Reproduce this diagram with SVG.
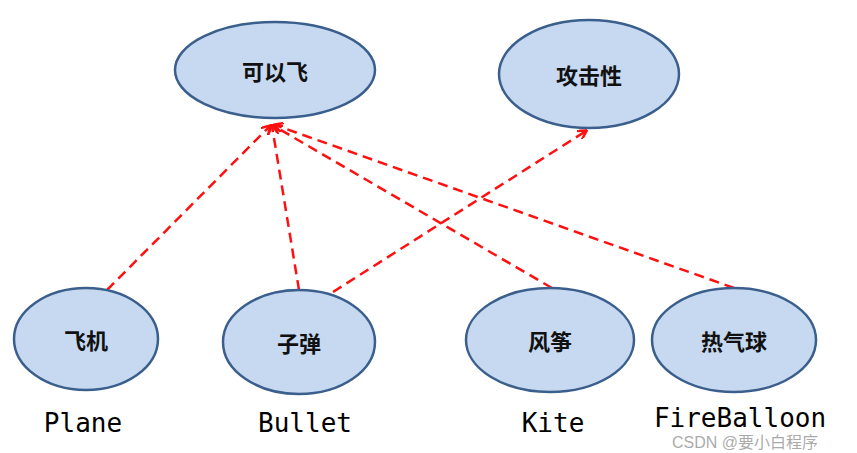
<svg xmlns="http://www.w3.org/2000/svg" width="857" height="453" viewBox="0 0 857 453">
<style>
.n ellipse{fill:#C6D9F1;stroke:#3B5F8C;stroke-width:2.5}
.n text{font-family:"Noto Sans CJK SC",sans-serif;font-size:22px;font-weight:bold;fill:#111;text-anchor:middle;dominant-baseline:central}
.lbl{font-family:"DejaVu Sans Mono","Liberation Mono",monospace;font-size:26px;fill:#000;text-anchor:middle}
.c line{stroke:#FF1010;stroke-width:2.5;stroke-dasharray:10 6;marker-end:url(#ah)}
</style>
<defs>
<marker id="ah" markerWidth="10" markerHeight="10" refX="8" refY="5" orient="auto" markerUnits="userSpaceOnUse">
<path d="M0,0 L9,5 L0,10" fill="none" stroke="#FF1010" stroke-width="2.5"/>
</marker>
</defs>
<rect width="857" height="453" fill="#fff"/>
<g class="c" id="connectors">
<line x1="107" y1="290" x2="270" y2="126"/>
<line x1="299" y1="290" x2="272" y2="126"/>
<line x1="552" y1="288" x2="274" y2="126"/>
<line x1="734" y1="288" x2="275" y2="125"/>
<line x1="333" y1="292" x2="586" y2="131"/>
</g>
<g class="n" id="fly"><ellipse cx="275" cy="70" rx="100" ry="48"/><text x="275" y="70">可以飞</text></g>
<g class="n" id="attack"><ellipse cx="589" cy="74" rx="90" ry="54"/><text x="589" y="74">攻击性</text></g>
<g class="n" id="plane"><ellipse cx="86" cy="339" rx="72" ry="51"/><text x="86" y="339">飞机</text></g>
<g class="n" id="bullet"><ellipse cx="299" cy="342" rx="76" ry="52"/><text x="299" y="342">子弹</text></g>
<g class="n" id="kite"><ellipse cx="550" cy="340" rx="84" ry="52"/><text x="550" y="340">风筝</text></g>
<g class="n" id="balloon"><ellipse cx="734" cy="340" rx="82" ry="52"/><text x="734" y="340">热气球</text></g>
<text class="lbl" x="83" y="432">Plane</text>
<text class="lbl" x="305" y="432">Bullet</text>
<text class="lbl" x="553" y="432">Kite</text>
<text class="lbl" x="740" y="427">FireBalloon</text>
<text x="672" y="448" font-family="'Liberation Sans','Noto Sans CJK SC',sans-serif" font-size="16" fill="#9a9a9a" fill-opacity="0.85">CSDN @要小白程序</text>
</svg>
